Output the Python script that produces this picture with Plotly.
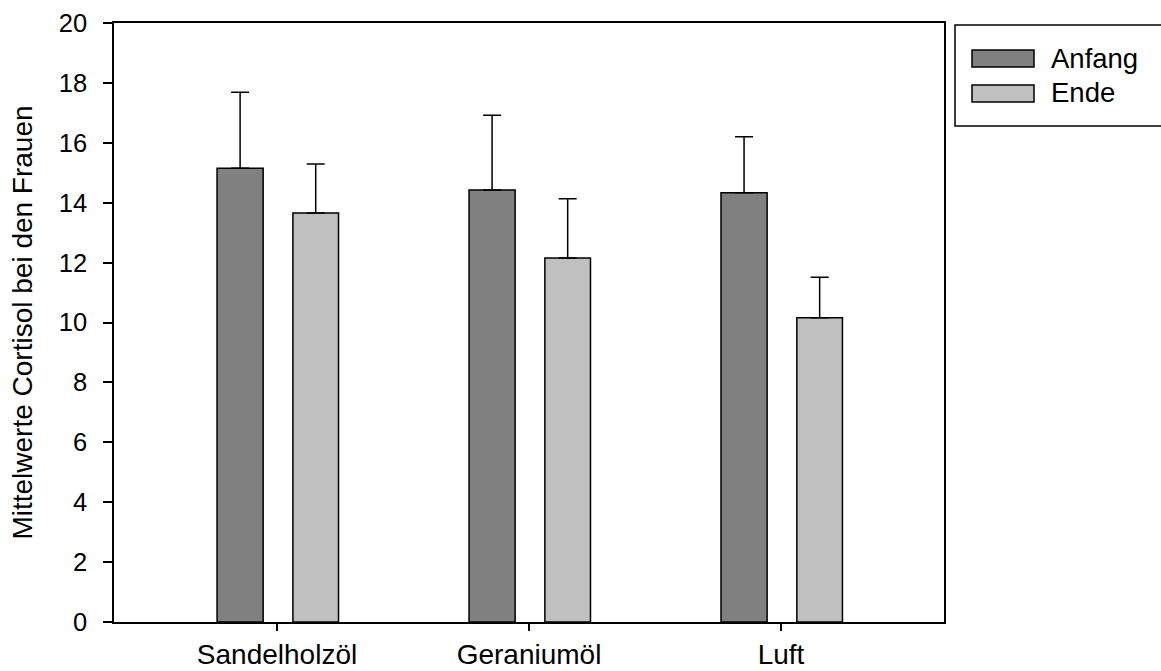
import plotly.graph_objects as go

categories = ["Sandelholzöl", "Geraniumöl", "Luft"]
anfang = [15.15, 14.42, 14.33]
anfang_err = [2.54, 2.50, 1.87]
ende = [13.66, 12.15, 10.16]
ende_err = [1.63, 1.98, 1.35]
series_names = ["Anfang", "Ende"]
y_ticks = [0, 2, 4, 6, 8, 10, 12, 14, 16, 18, 20]

W, H = 1161, 671
L, R, T, B = 114, 217, 23, 49
PW, PH = W - L - R, H - T - B

def px(x):
    return (x - L) / PW

def py(y):
    return (H - B - y) / PH

FONT = "Liberation Sans, Arial, sans-serif"
xpos = list(range(len(categories)))

fig = go.Figure()
fig.add_trace(go.Bar(
    x=xpos, y=anfang, name=series_names[0], offset=-0.238, width=0.183,
    marker=dict(color="#808080", line=dict(color="black", width=1.5)),
    error_y=dict(type="data", array=anfang_err, arrayminus=[0] * 3, symmetric=False,
                 color="black", thickness=1.5, width=9),
    showlegend=False,
))
fig.add_trace(go.Bar(
    x=xpos, y=ende, name=series_names[1], offset=0.063, width=0.181,
    marker=dict(color="#c0c0c0", line=dict(color="black", width=1.5)),
    error_y=dict(type="data", array=ende_err, arrayminus=[0] * 3, symmetric=False,
                 color="black", thickness=1.5, width=9),
    showlegend=False,
))

# custom legend (box, swatches, labels)
shapes = [
    dict(type="rect", xref="paper", yref="paper", x0=px(955), x1=px(1200), y0=py(126), y1=py(25),
         line=dict(color="black", width=1.5), fillcolor="white", layer="above"),
    dict(type="rect", xref="paper", yref="paper", x0=px(972), x1=px(1034), y0=py(67), y1=py(50),
         line=dict(color="black", width=1.5), fillcolor="#808080"),
    dict(type="rect", xref="paper", yref="paper", x0=px(972), x1=px(1034), y0=py(102), y1=py(85),
         line=dict(color="black", width=1.5), fillcolor="#c0c0c0"),
]
annotations = [
    dict(text=series_names[0], xref="paper", yref="paper", x=px(1049), y=py(59),
         xanchor="left", yanchor="middle", showarrow=False, font=dict(size=27.5, color="black", family=FONT)),
    dict(text=series_names[1], xref="paper", yref="paper", x=px(1049), y=py(93),
         xanchor="left", yanchor="middle", showarrow=False, font=dict(size=27.5, color="black", family=FONT)),
]

fig.update_layout(
    width=W, height=H,
    margin=dict(l=L, r=R, t=T, b=B, pad=0),
    barmode="overlay",
    plot_bgcolor="white", paper_bgcolor="white",
    font=dict(family=FONT, size=27, color="black"),
    shapes=shapes, annotations=annotations,
    xaxis=dict(
        range=[-0.647, 2.647], tickvals=xpos, ticktext=categories,
        showline=True, linecolor="black", linewidth=1.5, mirror=True,
        ticks="outside", ticklen=7, tickwidth=1.5, tickcolor="black",
        showgrid=False, zeroline=False, automargin=False, ticklabelstandoff=0,
        tickfont=dict(size=28),
    ),
    yaxis=dict(
        range=[0, 20], tickvals=y_ticks,
        showline=True, linecolor="black", linewidth=1.5, mirror=True,
        ticks="outside", ticklen=9, tickwidth=1.5, tickcolor="black",
        showgrid=False, zeroline=False, automargin=False, ticklabelstandoff=11,
        title=dict(text="Mittelwerte Cortisol bei den Frauen", standoff=18, font=dict(size=28)),
        tickfont=dict(size=25.5),
    ),
)

fig.write_html(
    "out.html",
    config={"displayModeBar": False},
    post_script="document.body.style.margin='0';document.body.style.overflow='hidden';",
)
